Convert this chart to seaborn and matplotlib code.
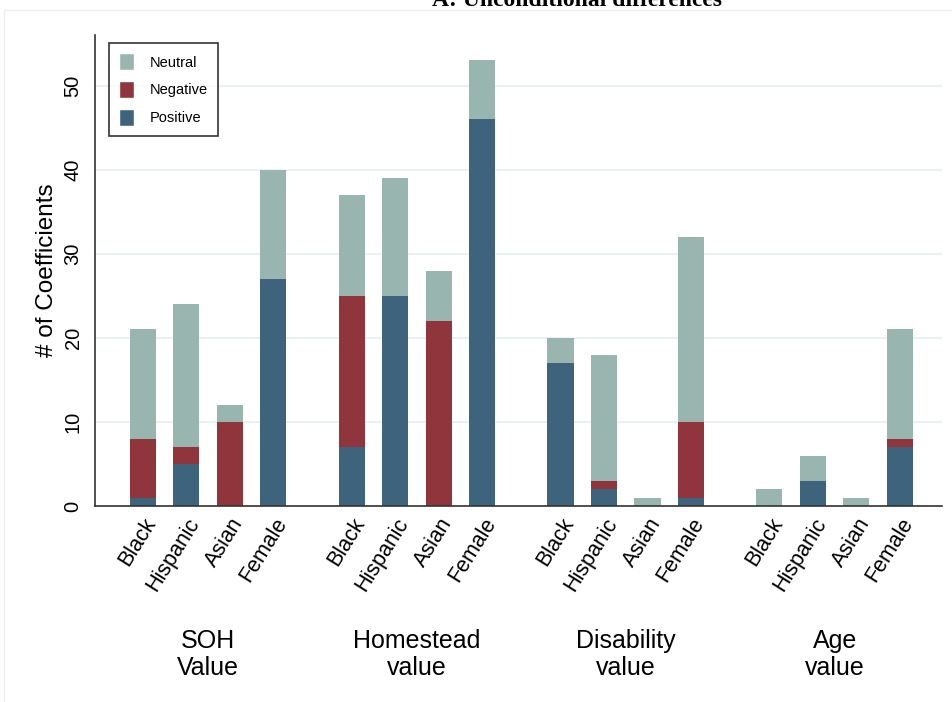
import numpy as np
import pandas as pd
import matplotlib.pyplot as plt
import matplotlib.patches as patches
import seaborn as sns

# -------------------------------------------------------------
# Data
# -------------------------------------------------------------
groups = ['SOH\nValue', 'Homestead\nvalue', 'Disability\nvalue', 'Age\nvalue']
categories = ['Black', 'Hispanic', 'Asian', 'Female']

# one row per group, one column per category
positive = [[1, 5, 0, 27],
            [7, 25, 0, 46],
            [17, 2, 0, 1],
            [0, 3, 0, 7]]
negative = [[7, 2, 10, 0],
            [18, 0, 22, 0],
            [0, 1, 0, 9],
            [0, 0, 0, 1]]
neutral = [[13, 17, 2, 13],
           [12, 14, 6, 7],
           [3, 15, 1, 22],
           [2, 3, 1, 13]]

# -------------------------------------------------------------
# Long table with bar positions (gap between the groups)
# -------------------------------------------------------------
group_step = 4.8
rows = []
for g, grp in enumerate(groups):
    for i, cat in enumerate(categories):
        pos = positive[g][i]
        neg = negative[g][i]
        neu = neutral[g][i]
        rows.append({'x': g * group_step + i, 'group': grp, 'category': cat,
                     'pos': pos, 'pos_neg': pos + neg, 'total': pos + neg + neu})
df = pd.DataFrame(rows)

col_neutral = '#98b6af'
col_negative = '#90353b'
col_positive = '#3e647d'

sns.set_theme(style='white')
plt.rcParams['font.family'] = ['Liberation Sans', 'DejaVu Sans']
plt.rcParams['text.color'] = 'black'
plt.rcParams['axes.labelcolor'] = 'black'
plt.rcParams['xtick.color'] = 'black'
plt.rcParams['ytick.color'] = 'black'

fig = plt.figure(figsize=(9.53, 7.02), dpi=100, facecolor='white')
ax = fig.add_axes([0.0997, 0.2792, 0.8888, 0.6708])

# stacked bars: draw cumulative totals from the top segment down
bar_kw = dict(x='x', orient='x', native_scale=True, width=0.6, ax=ax,
              edgecolor='none', linewidth=0, errorbar=None, saturation=1)
sns.barplot(data=df, y='total', color=col_neutral, **bar_kw)
sns.barplot(data=df, y='pos_neg', color=col_negative, **bar_kw)
sns.barplot(data=df, y='pos', color=col_positive, **bar_kw)

# axes styling
ax.set_xlim(-1.1, 18.37)
ax.set_ylim(0, 56)
ax.set_yticks([0, 10, 20, 30, 40, 50])
ax.set_yticklabels(['0', '10', '20', '30', '40', '50'], rotation=90, va='center', fontsize=14.5)
ax.set_xticks(df['x'])
ax.set_xticklabels(df['category'], rotation=58, ha='right', rotation_mode='anchor', fontsize=15.5)
ax.tick_params(axis='both', direction='out', length=5, width=1, color='#333333', pad=4)
ax.tick_params(axis='x', length=0, pad=6)
ax.set_xlabel('')
ax.set_ylabel('# of Coefficients', fontsize=17.5, labelpad=4)

for side in ['top', 'right']:
    ax.spines[side].set_visible(False)
for side in ['left', 'bottom']:
    ax.spines[side].set_color('#333333')
    ax.spines[side].set_linewidth(1.2)

ax.yaxis.grid(True, color='#e6eff1', linewidth=1.2)
ax.set_axisbelow(True)

# group labels under the tick labels
for g, grp in enumerate(groups):
    ax.text(g * group_step + 1.5, -0.262, grp, transform=ax.get_xaxis_transform(),
            ha='center', va='top', fontsize=18, linespacing=1.15)

# legend
handles = [patches.Patch(facecolor=col_neutral, label='Neutral'),
           patches.Patch(facecolor=col_negative, label='Negative'),
           patches.Patch(facecolor=col_positive, label='Positive')]
leg = ax.legend(handles=handles, loc='upper left', bbox_to_anchor=(0.0165, 0.983),
                borderaxespad=0, fontsize=10.5, frameon=True, fancybox=False,
                edgecolor='black', handlelength=1.0, handleheight=1.4,
                handletextpad=1.1, labelspacing=0.75, borderpad=0.7)
leg.get_frame().set_linewidth(1.2)

# outer graph region border and the (cropped) title
fig.patches.append(patches.Rectangle((4 / 953, -0.01), 1.0, (702 - 10) / 702 + 0.01,
                                     transform=fig.transFigure, fill=False,
                                     edgecolor='#eeeeee', linewidth=1))
fig.text(0.605, 1 - 6 / 702, 'A: Unconditional differences', ha='center', va='baseline',
         fontsize=17, fontweight='bold', family=['Liberation Serif', 'DejaVu Serif'])

plt.savefig('out.png', dpi=100, facecolor='white')
